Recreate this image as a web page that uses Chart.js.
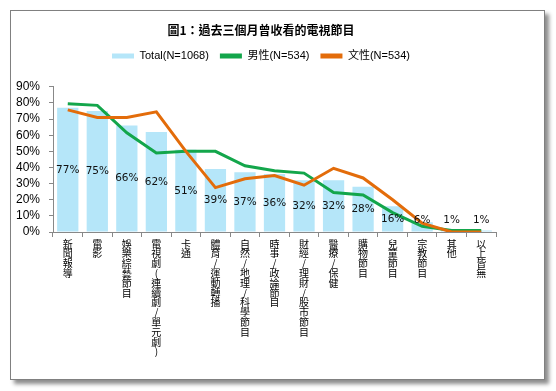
<!DOCTYPE html>
<html>
<head>
<meta charset="utf-8">
<script src="https://cdn.jsdelivr.net/npm/chart.js@4"></script>
<style>
  html, body { margin: 0; padding: 0; background: #fff; }
  #wrap { position: relative; width: 556px; height: 391px; }
  #frame { position: absolute; left: 10px; top: 10px; width: 533px; height: 368px;
           border: 1px solid #808080; background: #fff;
           box-shadow: 4px 4px 4px rgba(0,0,0,0.45); }
  #c { position: absolute; left: 0; top: 0; }
</style>
</head>
<body>
<div id="wrap">
  <div id="frame"></div>
  <canvas id="c" width="522" height="391"></canvas>
</div>
<script>
const titleText = '圖1：過去三個月曾收看的電視節目';
const categories = ['新聞報導','電影','娛樂綜藝節目','電視劇(連續劇/單元劇)','卡通','體育/運動轉播','自然/地理/科學節目','時事/政論節目','財經/理財/股市節目','醫療/保健','購物節目','兒童節目','宗教節目','其他','以上皆無'];
const seriesNames = ['Total(N=1068)', '男性(N=534)', '文性(N=534)'];
const totalValues = [77, 75, 66, 62, 51, 39, 37, 36, 32, 32, 28, 16, 6, 1, 1];
const maleValues = [79.5, 78.5, 61.5, 49, 50, 50, 41, 38, 36.5, 24.5, 23, 12, 3.5, 1, 1];
const femaleValues = [75.7, 71, 71, 74.5, 50, 27.5, 33, 35, 29, 39.5, 33.5, 20, 5.5, 0, 0];
const yTicks = [0, 10, 20, 30, 40, 50, 60, 70, 80, 90];

const cjk = "'Noto Sans CJK TC', 'Noto Sans CJK SC', sans-serif";
const latin = "'Liberation Sans', 'Noto Sans CJK TC', sans-serif";

const barLabels = {
  id: 'barLabels',
  afterDatasetsDraw(chart) {
    const meta = chart.getDatasetMeta(0);
    const ctx = chart.ctx;
    const yBase = chart.scales.y.getPixelForValue(0);
    ctx.save();
    ctx.font = "10.5px 'DejaVu Sans', sans-serif";
    ctx.fillStyle = '#111';
    ctx.textAlign = 'center';
    ctx.textBaseline = 'middle';
    meta.data.forEach((bar, i) => {
      const mid = (bar.y + yBase) / 2;
      const y = Math.min(mid, yBase - 12);
      ctx.fillText(totalValues[i] + '%', bar.x, y);
    });
    ctx.restore();
  }
};

const legendFix = {
  id: 'legendFix',
  beforeInit(chart) {
    const orig = chart.legend.fit;
    chart.legend.fit = function () {
      orig.bind(chart.legend)();
      this.height = 47.4;
    };
  }
};

new Chart(document.getElementById('c'), {
  data: {
    labels: categories.map(c => Array.from(c)),
    datasets: [
      { type: 'bar', label: seriesNames[0], data: totalValues, backgroundColor: '#B5E6F9',
        barPercentage: 0.72, categoryPercentage: 1.0, order: 3 },
      { type: 'line', label: seriesNames[1], data: maleValues, borderColor: '#13A64B', backgroundColor: '#13A64B',
        borderWidth: 3, pointRadius: 0, tension: 0, order: 2 },
      { type: 'line', label: seriesNames[2], data: femaleValues, borderColor: '#E36C0A', backgroundColor: '#E36C0A',
        borderWidth: 3, pointRadius: 0, tension: 0, order: 1 }
    ]
  },
  options: {
    responsive: false,
    animation: false,
    layout: { padding: { left: 0, right: 0, top: 0, bottom: 29 } },
    plugins: {
      title: { display: true, text: titleText, color: '#000',
        font: { family: cjk, size: 12, weight: 'bold' }, padding: { top: 23, bottom: 2 } },
      legend: {
        display: true,
        labels: {
          color: '#000', font: { family: latin, size: 11 }, boxWidth: 22, boxHeight: 5, padding: 11,
          sort: (a, b) => a.datasetIndex - b.datasetIndex,
          generateLabels(chart) {
            return chart.data.datasets.map((ds, i) => ({
              text: ds.label, fillStyle: ds.type === 'line' ? ds.borderColor : ds.backgroundColor,
              strokeStyle: 'rgba(0,0,0,0)', lineWidth: 0, hidden: false, datasetIndex: i, fontColor: '#000'
            }));
          }
        }
      },
      tooltip: { enabled: false }
    },
    scales: {
      x: {
        offset: true,
        grid: { display: true, drawOnChartArea: false, offset: true, tickLength: 5, color: '#888' },
        border: { color: '#888' },
        ticks: { autoSkip: false, maxRotation: 0, minRotation: 0, padding: 2, color: '#000',
          font: { family: cjk, size: 10, lineHeight: 0.98 } },
        afterFit(scale) { scale.height = 130; }
      },
      y: {
        min: 0, max: 90,
        afterBuildTicks(scale) { scale.ticks = yTicks.map(v => ({ value: v })); },
        grid: { display: true, drawOnChartArea: false, tickLength: 4, color: '#888' },
        border: { color: '#888' },
        ticks: { autoSkip: false, padding: 9, color: '#000', font: { family: latin, size: 12 },
          callback: v => v + '%' },
        afterFit(scale) { scale.width = 53; }
      },
      yRight: {
        type: 'linear', position: 'right', min: 0, max: 1,
        grid: { display: false }, border: { display: false }, ticks: { display: false },
        afterFit(scale) { scale.width = 26; }
      }
    }
  },
  plugins: [barLabels, legendFix]
});
</script>
</body>
</html>
